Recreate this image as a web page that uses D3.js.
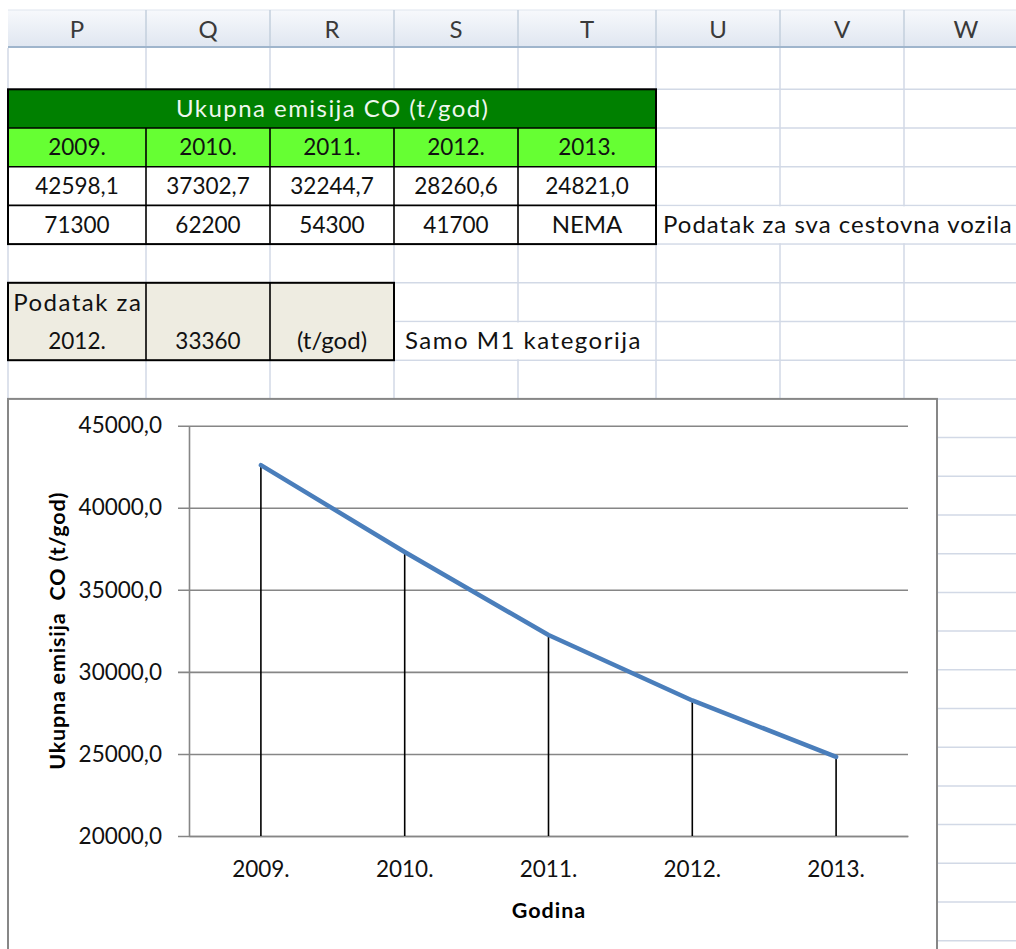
<!DOCTYPE html>
<html>
<head>
<meta charset="utf-8">
<script src="https://cdn.jsdelivr.net/npm/d3@7"></script>
<style>
  body { margin: 0; background: #fff; }
  svg { display: block; }
  text { font-family: Lato, "Open Sans", sans-serif; white-space: pre; }
</style>
</head>
<body>
<svg id="sheet" width="1016" height="949"></svg>
<script>
// ---- sheet contents ----
const columnLetters = ["P", "Q", "R", "S", "T", "U", "V", "W"];
const tableTitle = "Ukupna emisija CO (t/god)";
const years = ["2009.", "2010.", "2011.", "2012.", "2013."];
const emissionCO = [42598.1, 37302.7, 32244.7, 28260.6, 24821.0];
const allVehicles = ["71300", "62200", "54300", "41700", "NEMA"];
const allVehiclesNote = "Podatak za sva cestovna vozila";
const m1Label = ["Podatak za", "2012."];
const m1Value = "33360";
const m1Unit = "(t/god)";
const m1Note = "Samo M1 kategorija";

// ---- chart axes ----
const yDomain = [20000, 45000];
const yTicks = [20000, 25000, 30000, 35000, 40000, 45000];
const yTitle = "Ukupna emisija  CO (t/god)";
const xTitle = "Godina";

// ---- sheet geometry ----
const W = 1016, H = 949;
const colEdges = [8, 146, 270, 394, 518, 656, 780, 904, 1028];
const headerTop = 10, headerBottom = 48;
const rowH = 38.7;
const rowTop = n => n === 1 ? headerBottom : 89.3 + (n - 2) * rowH;
const rowMid = n => (rowTop(n) + rowTop(n + 1)) / 2;
const colMid = c => (colEdges[c] + colEdges[c + 1]) / 2;
const FS = 22.5;      // numbers
const FS_TXT = 24;    // words
const gridColor = "#d2d9e6";

const svg = d3.select("#sheet");
svg.append("rect").attr("width", W).attr("height", H).attr("fill", "#fff");

function cellText(x, y, str, anchor, opts = {}) {
  const sp = opts.spacing || 0;
  return svg.append("text")
    .attr("x", anchor === "start" ? x : x + sp / 2).attr("y", y).attr("dy", "0.36em")
    .attr("text-anchor", anchor || "middle")
    .attr("font-size", opts.size || FS)
    .attr("font-weight", opts.weight || "normal")
    .attr("letter-spacing", sp)
    .attr("fill", opts.fill || "#111")
    .text(str);
}

// ---- worksheet gridlines ----
const grid = svg.append("g").attr("stroke", gridColor).attr("stroke-width", 1.5);
for (let n = 2; rowTop(n) < H; n++) {
  grid.append("line").attr("x1", colEdges[0]).attr("x2", W)
    .attr("y1", rowTop(n)).attr("y2", rowTop(n));
}
colEdges.forEach(x => {
  grid.append("line").attr("x1", x).attr("x2", x)
    .attr("y1", headerBottom).attr("y2", H);
});

// text spilling over neighbouring empty cells hides their gridlines
function spill(c0, c1, n) {
  svg.append("rect")
    .attr("x", colEdges[c0] + 1).attr("y", rowTop(n) + 1)
    .attr("width", colEdges[c1] - colEdges[c0] - 2)
    .attr("height", rowTop(n + 1) - rowTop(n) - 2)
    .attr("fill", "#fff");
}
spill(5, 8, 5);
spill(3, 5, 8);

// ---- column header strip ----
const defs = svg.append("defs");
const hg = defs.append("linearGradient").attr("id", "hdr")
  .attr("x1", 0).attr("y1", 0).attr("x2", 0).attr("y2", 1);
hg.append("stop").attr("offset", "0%").attr("stop-color", "#f7f9fc");
hg.append("stop").attr("offset", "100%").attr("stop-color", "#dfe6f0");
svg.append("rect").attr("x", colEdges[0]).attr("y", headerTop)
  .attr("width", W - colEdges[0]).attr("height", headerBottom - headerTop)
  .attr("fill", "url(#hdr)");
svg.append("line").attr("x1", colEdges[0]).attr("x2", W)
  .attr("y1", headerBottom - 1).attr("y2", headerBottom - 1)
  .attr("stroke", "#9fb5cc").attr("stroke-width", 2);
svg.append("line").attr("x1", colEdges[0]).attr("x2", W)
  .attr("y1", headerTop).attr("y2", headerTop)
  .attr("stroke", "#dfe5ee").attr("stroke-width", 1);
colEdges.slice(1).forEach(x => {
  svg.append("line").attr("x1", x).attr("x2", x)
    .attr("y1", headerTop).attr("y2", headerBottom - 2)
    .attr("stroke", "#c3cfdd").attr("stroke-width", 1.5);
});
columnLetters.forEach((L, i) => {
  cellText(colMid(i), (headerTop + headerBottom) / 2, L, "middle",
    { fill: "#3a3a3a", size: FS_TXT });
});

// ---- emission table ----
const tL = colEdges[0], tR = colEdges[5];
svg.append("rect").attr("x", tL).attr("y", rowTop(2))
  .attr("width", tR - tL).attr("height", rowTop(3) - rowTop(2)).attr("fill", "#008000");
svg.append("rect").attr("x", tL).attr("y", rowTop(3))
  .attr("width", tR - tL).attr("height", rowTop(4) - rowTop(3)).attr("fill", "#66ff33");
svg.append("rect").attr("x", tL).attr("y", rowTop(4))
  .attr("width", tR - tL).attr("height", rowTop(6) - rowTop(4)).attr("fill", "#fff");

const borders = svg.append("g").attr("stroke", "#000").attr("stroke-width", 1.6);
[3, 4, 5].forEach(n => borders.append("line").attr("x1", tL).attr("x2", tR)
  .attr("y1", rowTop(n)).attr("y2", rowTop(n)));
colEdges.slice(1, 5).forEach(x => borders.append("line").attr("x1", x).attr("x2", x)
  .attr("y1", rowTop(3)).attr("y2", rowTop(6)));
svg.append("rect").attr("x", tL).attr("y", rowTop(2))
  .attr("width", tR - tL).attr("height", rowTop(6) - rowTop(2))
  .attr("fill", "none").attr("stroke", "#000").attr("stroke-width", 2);

cellText((tL + tR) / 2, rowMid(2), tableTitle, "middle",
  { fill: "#eef7ee", size: FS_TXT, spacing: 1.45 });
years.forEach((y, i) => cellText(colMid(i), rowMid(3), y));
emissionCO.forEach((v, i) => cellText(colMid(i), rowMid(4), d3.format(".1f")(v).replace(".", ",")));
allVehicles.forEach((v, i) => cellText(colMid(i), rowMid(5), v, "middle",
  /[A-Z]/.test(v) ? { size: FS_TXT } : {}));
cellText(colEdges[5] + 7, rowMid(5), allVehiclesNote, "start", { size: FS_TXT, spacing: 1.0 });

// ---- M1 block ----
const mL = colEdges[0], mR = colEdges[3];
svg.append("rect").attr("x", mL).attr("y", rowTop(7))
  .attr("width", mR - mL).attr("height", rowTop(9) - rowTop(7))
  .attr("fill", "#eeece1").attr("stroke", "#000").attr("stroke-width", 2);
colEdges.slice(1, 3).forEach(x => svg.append("line").attr("x1", x).attr("x2", x)
  .attr("y1", rowTop(7)).attr("y2", rowTop(9)).attr("stroke", "#000").attr("stroke-width", 1.6));
cellText(colMid(0), rowMid(7), m1Label[0], "middle", { size: FS_TXT, spacing: 1.5 });
cellText(colMid(0), rowMid(8), m1Label[1]);
cellText(colMid(1), rowMid(8), m1Value);
cellText(colMid(2), rowMid(8), m1Unit, "middle", { size: FS_TXT });
cellText(colEdges[3] + 11, rowMid(8), m1Note, "start", { size: FS_TXT, spacing: 1.5 });

// ---- embedded chart ----
const chartTop = rowTop(10);
svg.append("rect").attr("x", 8).attr("y", chartTop)
  .attr("width", 929).attr("height", H - chartTop + 20)
  .attr("fill", "#fff").attr("stroke", "#878787").attr("stroke-width", 2);

const plot = { left: 189, right: 908, top: 425.7, bottom: 836 };
const x = d3.scaleBand().domain(years).range([plot.left, plot.right]);
const y = d3.scaleLinear().domain(yDomain).range([plot.bottom, plot.top]);
const cx = d => x(d) + x.bandwidth() / 2;
const axisGray = "#868686";

// value axis with gridlines
const yAxis = svg.append("g").attr("transform", `translate(${plot.left},0)`)
  .call(d3.axisLeft(y).tickValues(yTicks).tickSize(11).tickSizeOuter(0).tickPadding(16)
    .tickFormat(d => d3.format(".1f")(d).replace(".", ",")));
yAxis.select(".domain").attr("stroke", axisGray).attr("stroke-width", 1.6);
yAxis.selectAll(".tick line").attr("x1", plot.right - plot.left)
  .attr("stroke", axisGray).attr("stroke-width", 1.6);
yAxis.selectAll(".tick text").attr("font-size", FS).attr("font-family", "Lato, sans-serif")
  .attr("fill", "#111");

// category axis
const xAxis = svg.append("g").attr("transform", `translate(0,${plot.bottom})`)
  .call(d3.axisBottom(x).tickSize(0).tickSizeOuter(0).tickPadding(25));
xAxis.select(".domain").attr("stroke", axisGray).attr("stroke-width", 1.6);
xAxis.selectAll(".tick text").attr("font-size", FS).attr("font-family", "Lato, sans-serif")
  .attr("fill", "#111");

// drop lines from each point down to the category axis
svg.append("g").selectAll("line").data(years).join("line")
  .attr("x1", cx).attr("x2", cx)
  .attr("y1", (d, i) => y(emissionCO[i])).attr("y2", plot.bottom)
  .attr("stroke", "#000").attr("stroke-width", 1.6);

// emission series
const line = d3.line().x(cx).y((d, i) => y(emissionCO[i]));
svg.append("path").datum(years).attr("d", line)
  .attr("fill", "none").attr("stroke", "#4a7ebb").attr("stroke-width", 4.5)
  .attr("stroke-linecap", "round").attr("stroke-linejoin", "round");

// axis titles
svg.append("text")
  .attr("transform", `translate(65,${(plot.top + plot.bottom) / 2}) rotate(-90)`)
  .attr("text-anchor", "middle").attr("font-size", 21.5).attr("font-weight", "bold")
  .attr("letter-spacing", 0.8).attr("fill", "#000").text(yTitle);
svg.append("text")
  .attr("x", (plot.left + plot.right) / 2 + 0.5).attr("y", 918)
  .attr("text-anchor", "middle").attr("font-size", 21.5).attr("font-weight", "bold")
  .attr("letter-spacing", 1).attr("fill", "#000").text(xTitle);
</script>
</body>
</html>
